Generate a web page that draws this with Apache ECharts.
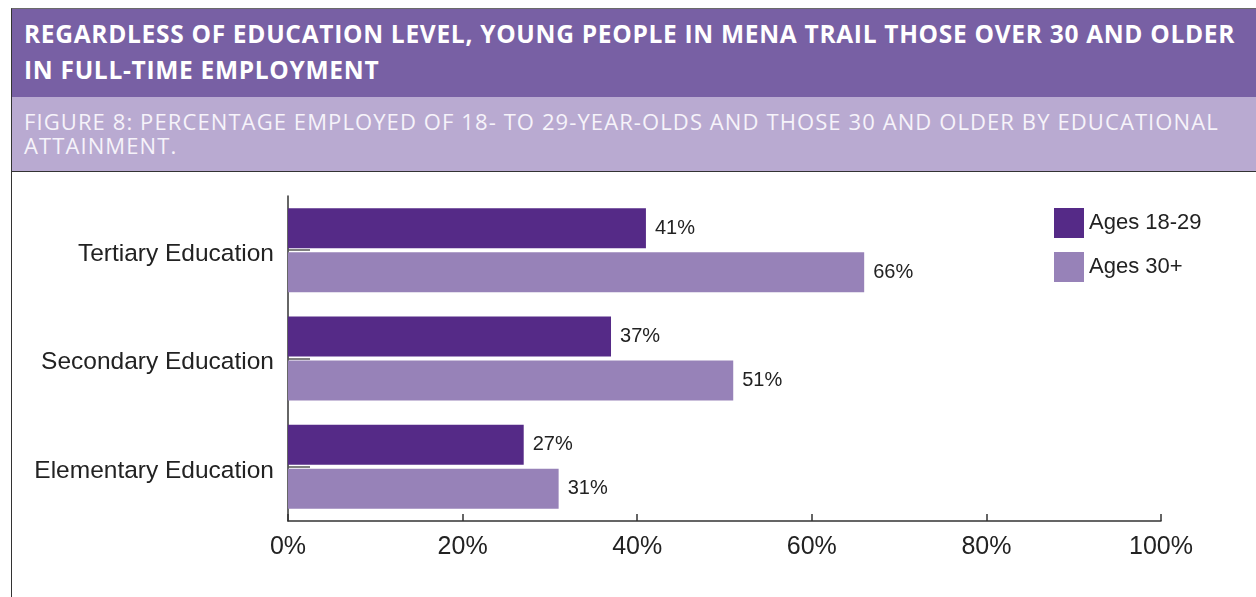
<!DOCTYPE html>
<html>
<head>
<meta charset="utf-8">
<script src="https://cdn.jsdelivr.net/npm/echarts@6/dist/echarts.min.js"></script>
<style>
  html, body { margin: 0; padding: 0; background: #fff; }
  body { width: 1256px; height: 597px; position: relative; overflow: hidden; }
  #frame { position: absolute; left: 11px; top: 8px; width: 1245px; height: 589px;
           border-top: 1px solid #6a6a6a; border-left: 1px solid #333; box-sizing: border-box; }
  #head { position: absolute; left: 12px; top: 9px; width: 1244px; height: 88px; background: #7860a4;
          color: #fff; font-family: "Open Sans", sans-serif; font-weight: 700; font-size: 24.5px;
          letter-spacing: 0.7px; line-height: 36.5px; padding: 6.5px 0 0 12px; box-sizing: border-box;
          white-space: nowrap; }
  #sub { position: absolute; left: 12px; top: 97px; width: 1244px; height: 75px; background: #b9aad1;
         color: #f6f3fa; font-family: "Open Sans", sans-serif; font-weight: 400; font-size: 22px;
         letter-spacing: 1.1px; line-height: 24px; padding: 12.3px 0 0 12px; box-sizing: border-box;
         border-bottom: 1px solid #333; white-space: nowrap; }
  #chart { position: absolute; left: 0; top: 0; width: 1256px; height: 597px; }
</style>
</head>
<body>
<div id="chart"></div>
<div id="frame"></div>
<div id="head">REGARDLESS OF EDUCATION LEVEL, YOUNG PEOPLE IN MENA TRAIL THOSE OVER 30 AND OLDER<br>IN FULL-TIME EMPLOYMENT</div>
<div id="sub">FIGURE 8: PERCENTAGE EMPLOYED OF 18- TO 29-YEAR-OLDS AND THOSE 30 AND OLDER BY EDUCATIONAL<br>ATTAINMENT.</div>
<script>
const categories = ['Tertiary Education', 'Secondary Education', 'Elementary Education'];
const seriesNames = ['Ages 18-29', 'Ages 30+'];
const young = [41, 37, 27];
const older = [66, 51, 31];
const xTicks = [0, 20, 40, 60, 80, 100];

const font = '"Liberation Sans", Arial, sans-serif';
const chart = echarts.init(document.getElementById('chart'));
chart.setOption({
  animation: false,
  textStyle: { fontFamily: font },
  legend: {
    left: 1054, top: 208, padding: 0, orient: 'vertical', itemWidth: 30, itemHeight: 30, itemGap: 14,
    icon: 'rect',
    textStyle: { fontSize: 22, color: '#222', fontFamily: font },
    data: seriesNames
  },
  grid: { left: 288, right: 95, top: 196, bottom: 76 },
  xAxis: {
    type: 'value', min: 0, max: 100, interval: 20,
    axisLine: { show: true, lineStyle: { color: '#333', width: 1.5 } },
    axisTick: { show: true, inside: true, length: 7, lineStyle: { color: '#333', width: 1.5 } },
    splitLine: { show: false },
    axisLabel: { fontSize: 25, color: '#222', margin: 14, fontFamily: font,
                 formatter: v => xTicks.includes(v) ? v + '%' : '' }
  },
  yAxis: {
    type: 'category', inverse: true, data: categories,
    axisLine: { show: true, lineStyle: { color: '#333', width: 1.5 } },
    axisTick: { show: true, inside: true, length: 22, alignWithLabel: true,
                lineStyle: { color: '#555', width: 1.5 } },
    axisLabel: { color: '#222', margin: 14,
                 formatter: v => '{c|' + v + '}',
                 rich: { c: { fontSize: 24.5, color: '#222', fontFamily: font, padding: [8, 0, 0, 0] } } }
  },
  series: [
    { name: seriesNames[0], type: 'bar', data: young, barWidth: 40, barGap: '10%',
      itemStyle: { color: '#552a87' },
      label: { show: true, position: 'right', distance: 9, formatter: '{c}%', fontSize: 20, color: '#222', fontFamily: font,
               padding: [4, 0, 0, 0] } },
    { name: seriesNames[1], type: 'bar', data: older, barWidth: 40, barGap: '10%',
      itemStyle: { color: '#9782b8' },
      label: { show: true, position: 'right', distance: 9, formatter: '{c}%', fontSize: 20, color: '#222', fontFamily: font } }
  ]
});
</script>
</body>
</html>
